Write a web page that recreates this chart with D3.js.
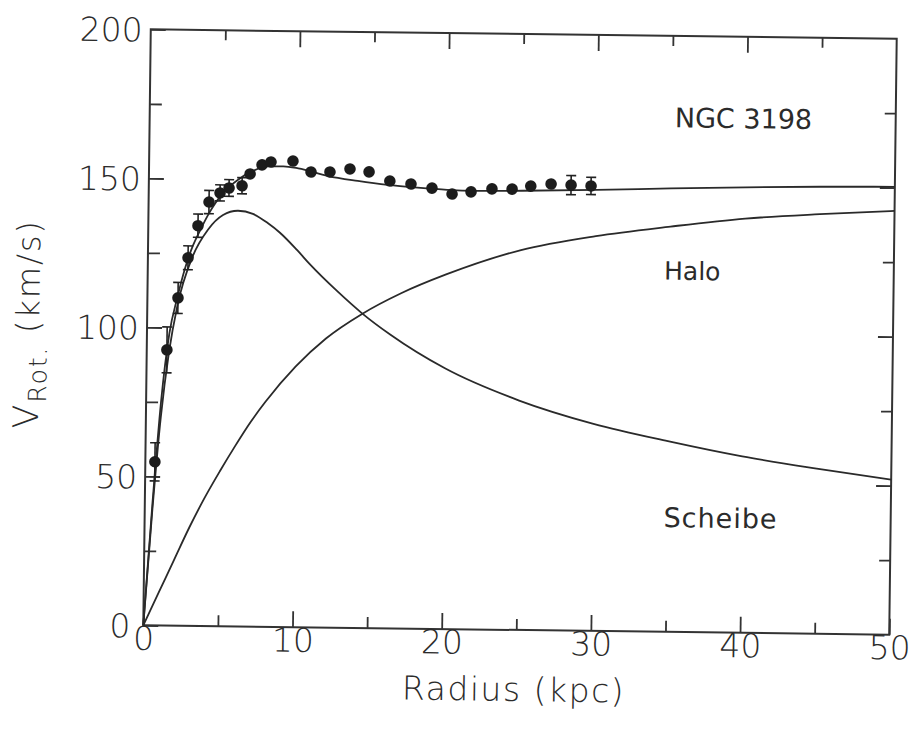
<!DOCTYPE html>
<html>
  <head>
    <script src="https://d3js.org/d3.v7.min.js"></script>
    <style>
      body { margin: 0; background: #fff; }
      text { font-family: "DejaVu Sans", sans-serif; fill: #2b2b2b; }
      .ticklab text { font-weight: 200; font-size: 33px; }
      .curve { fill: none; stroke: #2a2a2a; stroke-width: 1.8px; }
      .note { font-size: 27px; }
    </style>
  </head>
  <body>
    <svg id="chart" width="914" height="731"></svg>
    <script>
      // observed rotation curve (kpc, km/s)
      const obsR = [0.64, 1.35, 2.05, 2.69, 3.33, 4.05, 4.78, 5.38, 6.25, 6.78, 7.57, 8.17, 9.64, 10.86,
                    12.13, 13.47, 14.75, 16.15, 17.57, 18.98, 20.33, 21.6, 23.0, 24.35, 25.6, 26.96, 28.3, 29.64];
      const obsV = [54.9, 92.5, 110.0, 123.5, 134.3, 142.3, 145.4, 147.1, 147.9, 151.9, 155.0, 156.0, 156.4, 152.8,
                    152.9, 154.0, 153.1, 150.1, 149.2, 147.9, 146.0, 146.8, 147.9, 147.9, 149.0, 149.8, 149.5, 149.3];
      const obsErr = [6.4, 7.7, 5.2, 4.0, 3.9, 3.9, 2.7, 2.8, 2.7, 0, 0, 0, 0, 0,
                      0, 0, 0, 0, 0, 0, 0, 0, 0, 0, 0, 0, 3.2, 2.9];

      // model curves
      const totalR = [0, 0.5, 1, 1.5, 2, 2.5, 3, 3.5, 4, 5, 6, 7, 8, 9, 10, 12, 14, 16, 18, 20, 22, 25, 30, 35, 40, 45, 50];
      const totalV = [0, 40, 75, 98, 110, 120, 127.5, 133, 138, 145.5, 150, 153, 154.5, 154.6, 154, 151.5, 150, 148.8,
                      148, 147.4, 147.2, 147.4, 148, 148.8, 149.5, 150, 150.3];
      const haloR = [0, 1, 2, 3, 4, 5, 6, 7, 8, 10, 12, 14.4, 17, 20, 25, 30, 35, 40, 45, 50];
      const haloV = [0, 11, 22, 33, 43, 52, 60.5, 68.5, 75.5, 87.5, 97, 105.4, 112.5, 119, 127.5, 132.5, 136, 139, 140.8, 142.2];
      const diskR = [0, 0.5, 1, 1.5, 2, 3, 4, 5, 6, 7, 8, 8.83, 10, 10.87, 12.7, 14.4, 16.3, 20, 25, 30, 35, 40, 45, 50];
      const diskV = [0, 38, 70, 92, 107, 124, 133, 138, 139.5, 138.5, 135.5, 132.3, 126.5, 121.8, 113, 105.6, 98.6, 87.5, 77,
                     69.5, 64, 59.2, 55.4, 52];

      const xMajor = [0, 10, 20, 30, 40, 50];
      const xMinor = [5, 15, 25, 35, 45];
      const yMajor = [0, 50, 100, 150, 200];
      const yMinor = [25, 75, 125, 175];

      const svg = d3.select("#chart");
      // the scanned figure is tilted a little
      const g = svg.append("g").attr("transform", "rotate(0.72, 520, 332)");

      const x = d3.scaleLinear().domain([0, 50]).range([147, 893]);
      const y = d3.scaleLinear().domain([0, 200]).range([630, 34]);

      // frame
      g.append("rect")
        .attr("x", x(0)).attr("y", y(200))
        .attr("width", x(50) - x(0)).attr("height", y(0) - y(200))
        .attr("fill", "none").attr("stroke", "#333").attr("stroke-width", 2);

      function ticks(axis, transform, values, size, labels) {
        const a = g.append("g").attr("transform", transform)
          .call(axis.tickValues(values).tickSize(-size).tickSizeOuter(0).tickPadding(labels ? 8 : 0)
            .tickFormat(labels ? d3.format("d") : ""));
        a.select(".domain").remove();
        a.selectAll("line").attr("stroke", "#333").attr("stroke-width", 1.8);
        if (labels) a.attr("class", "ticklab");
        return a;
      }

      const left = ticks(d3.axisLeft(y), `translate(${x(0)},0)`, yMajor, 15, true);
      ticks(d3.axisLeft(y), `translate(${x(0)},0)`, yMinor, 12, false);
      ticks(d3.axisRight(y), `translate(${x(50)},0)`, yMajor.slice(1, -1), 15, false);
      ticks(d3.axisRight(y), `translate(${x(50)},0)`, yMinor, 11, false);
      const bottom = ticks(d3.axisBottom(x), `translate(0,${y(0)})`, xMajor, 16, true);
      ticks(d3.axisBottom(x), `translate(0,${y(0)})`, xMinor, 11, false);
      ticks(d3.axisTop(x), `translate(0,${y(200)})`, xMajor.slice(1, -1), 16, false);
      ticks(d3.axisTop(x), `translate(0,${y(200)})`, xMinor, 10, false);

      left.selectAll("text").attr("dy", "0.36em");
      left.selectAll(".tick").filter(d => d === 0).select("text").attr("x", -13);
      bottom.selectAll("text").attr("dy", "0.5em");

      // curves
      const line = (rs, vs) => d3.line()
        .x((d, i) => x(rs[i])).y(d => y(d)).curve(d3.curveMonotoneX)(vs);
      g.append("path").attr("class", "curve").attr("d", line(diskR, diskV));
      g.append("path").attr("class", "curve").attr("d", line(haloR, haloV));
      g.append("path").attr("class", "curve").attr("d", line(totalR, totalV)).attr("stroke-width", 2);

      // error bars
      const obs = obsR.map((r, i) => ({ r: r, v: obsV[i], e: obsErr[i] }));
      const eb = g.append("g").attr("stroke", "#222").attr("stroke-width", 1.6);
      obs.filter(d => d.e > 0).forEach(d => {
        eb.append("line").attr("x1", x(d.r)).attr("x2", x(d.r)).attr("y1", y(d.v - d.e)).attr("y2", y(d.v + d.e));
        [d.v - d.e, d.v + d.e].forEach(v => {
          eb.append("line").attr("x1", x(d.r) - 5).attr("x2", x(d.r) + 5).attr("y1", y(v)).attr("y2", y(v));
        });
      });

      g.append("g").selectAll("circle")
        .data(obs)
        .join("circle")
          .attr("cx", d => x(d.r))
          .attr("cy", d => y(d.v))
          .attr("r", 5.8)
          .attr("fill", "#1c1c1c");

      // annotations
      g.append("text").attr("class", "note").attr("x", x(39.8)).attr("y", y(172.6)).attr("dy", "0.36em")
        .attr("text-anchor", "middle").text("NGC 3198");
      g.append("text").attr("class", "note").attr("x", x(36.5)).attr("y", y(121.2)).attr("dy", "0.36em")
        .attr("text-anchor", "middle").style("font-size", "25px").text("Halo");
      g.append("text").attr("class", "note").attr("x", x(38.6)).attr("y", y(38.4)).attr("dy", "0.36em")
        .attr("text-anchor", "middle").style("letter-spacing", "1px").text("Scheibe");

      // axis titles
      g.append("text")
        .attr("x", (x(0) + x(50)) / 2 - 2).attr("y", 701)
        .attr("text-anchor", "middle")
        .style("font-size", "33px").style("font-weight", 200).style("letter-spacing", "1.5px")
        .text("Radius (kpc)");

      const yt = g.append("text")
        .attr("transform", "translate(39,330) rotate(-90)")
        .attr("text-anchor", "middle")
        .style("font-size", "32px").style("font-weight", 200).style("letter-spacing", "2px");
      yt.append("tspan").style("font-size", "35px").text("V");
      yt.append("tspan").attr("dy", 8).style("font-size", "25px").text("Rot.");
      yt.append("tspan").attr("dy", -8).text(" (km/s)");
    </script>
  </body>
</html>
